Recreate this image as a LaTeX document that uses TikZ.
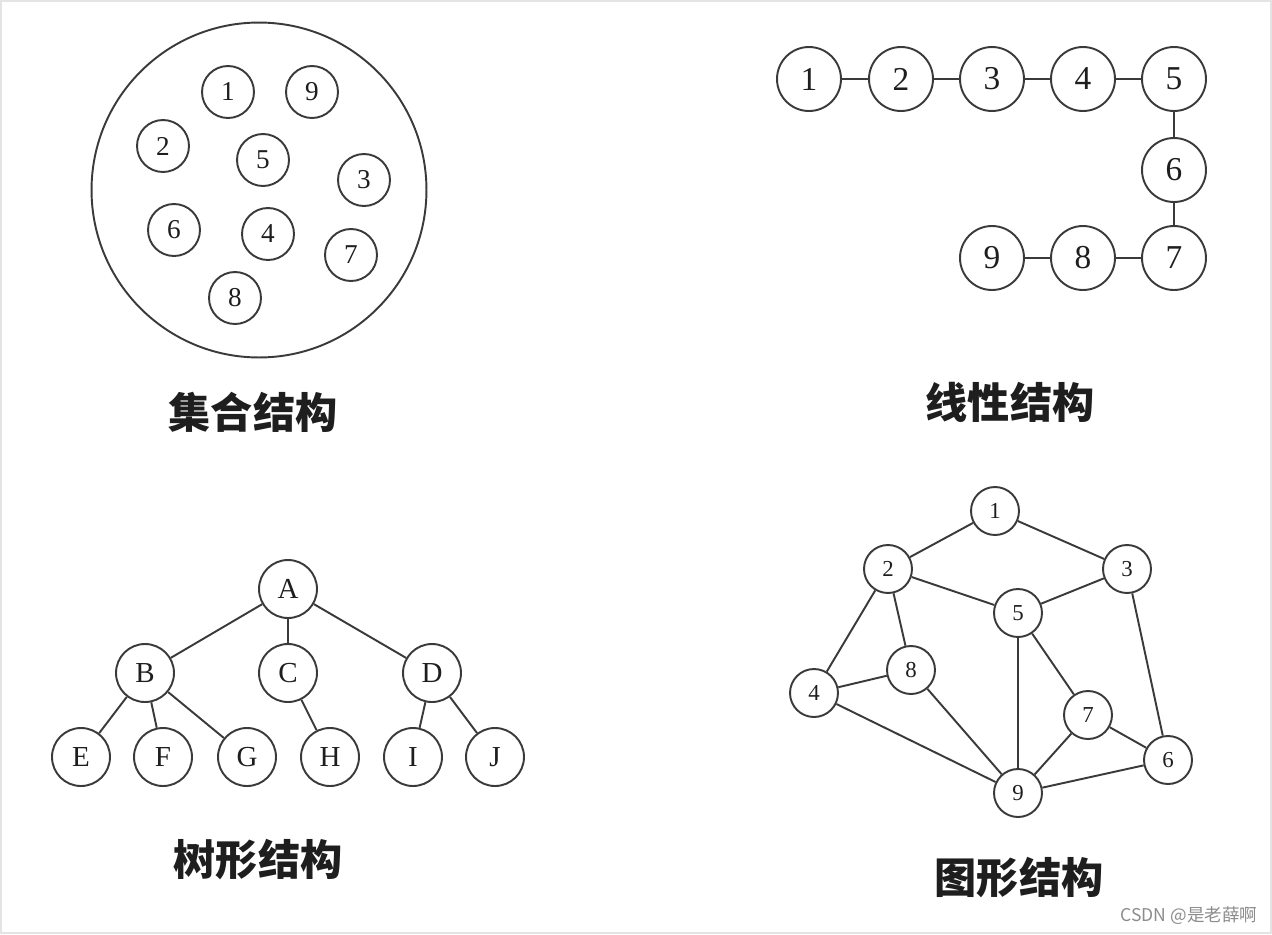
\documentclass[tikz,border=0pt]{standalone}
\usepackage{fontspec}
\setmainfont{Liberation Serif}
\newfontfamily\cjk{Noto Sans CJK SC}
\usepackage{tikz}

\begin{document}
\begin{tikzpicture}[x=0.02cm,y=-0.02cm,
  nodo/.style={circle,draw=colTratto,text=colTesto,line width=1.1pt,inner sep=0pt},
  arco/.style={draw=colTratto,line width=1.1pt},
  titolo/.style={font=\cjk\bfseries\fontsize{24}{28}\selectfont,text=colTesto}]

% Colori
\definecolor{colBordo}{HTML}{E4E4E4}
\definecolor{colFirma}{HTML}{8C8C8C}
\definecolor{colTratto}{HTML}{3A3A3A}
\definecolor{colTesto}{HTML}{1E1E1E}

% Cornice
\useasboundingbox (0,0) rectangle (1272,934);
\draw[colBordo, line width=0.6pt] (1,1) rectangle (1271,933);

% Struttura insieme
\node[nodo, minimum size=6.7cm] (insieme) at (259,190) {};
\foreach \n/\x/\y in {1/228/92, 9/312/92, 2/163/146, 5/263/160, 3/364/180,
                      6/174/230, 4/268/234, 7/351/255, 8/235/298}
  \node[nodo, minimum size=1.04cm, font=\fontsize{15.5}{16}\selectfont] (s\n) at (\x,\y) {\n};
\node[titolo] (tInsieme) at (253,412) {集合结构};

% Struttura lineare
\foreach \n/\x/\y in {1/809/79, 2/901/79, 3/992/79, 4/1083/79, 5/1174/79,
                      6/1174/170, 7/1174/258, 8/1083/258, 9/992/258}
  \node[nodo, minimum size=1.28cm, font=\fontsize{19}{20}\selectfont] (l\n) at (\x,\y) {\n};
\foreach \a/\b in {1/2, 2/3, 3/4, 4/5, 5/6, 6/7, 7/8, 8/9}
  \draw[arco] (l\a) -- (l\b);
\node[titolo] (tLineare) at (1010,402) {线性结构};

% Struttura ad albero
\foreach \n/\x/\y in {A/288/589, B/145/673, C/288/673, D/432/673,
                      E/81/757, F/163/757, G/247/757, H/330/757, I/413/757, J/495/757}
  \node[nodo, minimum size=1.16cm, font=\fontsize{16.5}{17}\selectfont] (a\n) at (\x,\y) {\n};
\foreach \a/\b in {A/B, A/C, A/D, B/E, B/F, B/G, C/H, D/I, D/J}
  \draw[arco] (a\a) -- (a\b);
\node[titolo] (tAlbero) at (258,860) {树形结构};

% Struttura a grafo
\foreach \n/\x/\y in {1/995/511, 2/888/569, 3/1127/569, 5/1018/613, 8/911/670,
                      4/814/693, 7/1088/715, 6/1168/760, 9/1018/793}
  \node[nodo, minimum size=0.96cm, font=\fontsize{13}{14}\selectfont] (g\n) at (\x,\y) {\n};
\foreach \a/\b in {1/2, 1/3, 2/5, 3/5, 2/4, 2/8, 4/8, 4/9, 8/9,
                   5/9, 5/7, 7/9, 7/6, 3/6, 9/6}
  \draw[arco] (g\a) -- (g\b);
\node[titolo] (tGrafo) at (1019,878) {图形结构};

% Firma
\node[font=\cjk\fontsize{10}{12}\selectfont, text=colFirma] (firma) at (1189,916) {CSDN @是老薛啊};

\end{tikzpicture}
\end{document}
